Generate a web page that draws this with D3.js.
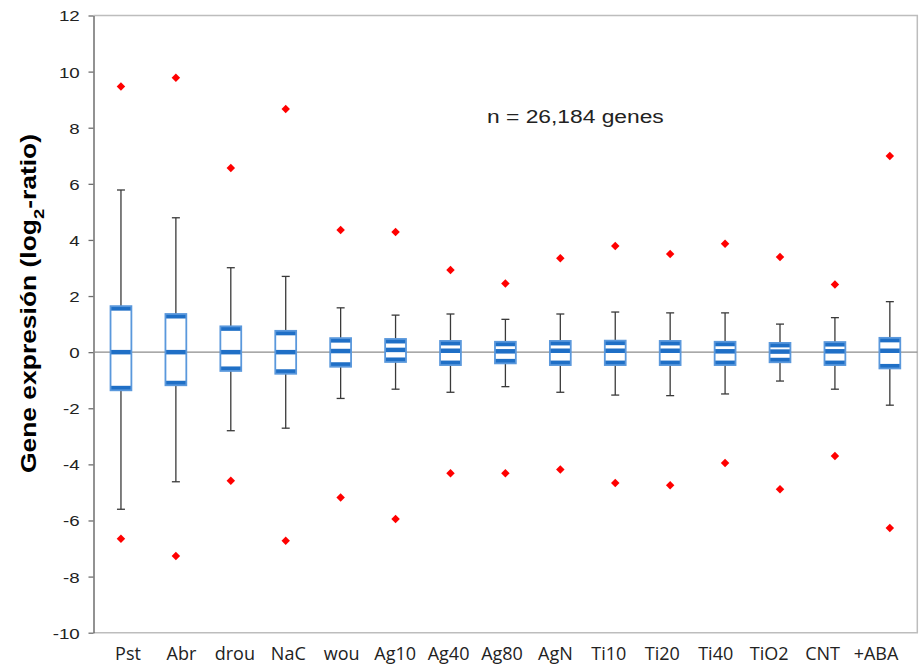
<!DOCTYPE html>
<html lang="es">
<head>
<meta charset="UTF-8">
<title>Gene expresión</title>
<script src="https://d3js.org/d3.v7.min.js"></script>
<style>
    body{ margin: 0; background: #fff; }
    svg{ display: block; }
</style>
</head>
<body>
<div id="grafico"></div>
<script>
    // categorias y valores (log2-ratio)
    const categorias = ['Pst', 'Abr', 'drou', 'NaC', 'wou', 'Ag10', 'Ag40', 'Ag80', 'AgN', 'Ti10', 'Ti20', 'Ti40', 'TiO2', 'CNT', '+ABA']
    const maximo  = [5.78, 4.79, 3.01, 2.70, 1.58, 1.32, 1.36, 1.17, 1.36, 1.43, 1.40, 1.40, 1.00, 1.23, 1.80]
    const q3      = [1.64, 1.36, 0.92, 0.76, 0.50, 0.47, 0.40, 0.37, 0.40, 0.41, 0.40, 0.37, 0.33, 0.36, 0.51]
    const mediana = [0, 0, 0, 0, 0.04, 0.08, 0.05, 0.03, 0.05, 0.05, 0.05, 0.03, 0.02, 0.03, 0.05]
    const q1      = [-1.36, -1.18, -0.67, -0.77, -0.52, -0.35, -0.46, -0.40, -0.46, -0.46, -0.46, -0.46, -0.36, -0.46, -0.58]
    const minimo  = [-5.6, -4.62, -2.8, -2.71, -1.65, -1.32, -1.43, -1.23, -1.43, -1.53, -1.55, -1.49, -1.03, -1.32, -1.89]
    const outAlto = [9.47, 9.78, 6.56, 8.67, 4.35, 4.28, 2.93, 2.45, 3.35, 3.78, 3.50, 3.86, 3.39, 2.41, 6.99]
    const outBajo = [-6.65, -7.27, -4.58, -6.72, -5.18, -5.95, -4.32, -4.32, -4.18, -4.66, -4.74, -3.95, -4.89, -3.70, -6.27]
    const ticksY = [-10, -8, -6, -4, -2, 0, 2, 4, 6, 8, 10, 12]

    const dados = categorias.map((c, i) => ({
        cat: c, hi: maximo[i], q3: q3[i], med: mediana[i], q1: q1[i], lo: minimo[i], oh: outAlto[i], ol: outBajo[i]
    }))

    const W = 919, H = 667
    const esq = 93.5, dir = 917.3, topo = 15.5, base = 632.7

    var svg = d3.select('#grafico')
        .append('svg')
        .attr('width', W)
        .attr('height', H)

    const x = d3.scaleBand().domain(categorias).range([esq, dir])
    const xRot = d3.scalePoint().domain(categorias).range([128, 876])
    const y = d3.scaleLinear().domain([-10, 12]).range([base, topo])

    // moldura cinza clara
    svg.append('path')
        .attr('d', `M${esq},${topo}H${dir}V${base}H${esq}`)
        .attr('fill', 'none')
        .attr('stroke', '#bdbdbd')
        .attr('stroke-width', 1.5)

    // eixo y
    const eixoY = svg.append('g')
        .attr('transform', `translate(${esq},0)`)
        .call(d3.axisLeft(y).tickValues(ticksY).tickSize(5).tickSizeOuter(0).tickFormat(d => String(d)))
    eixoY.select('.domain').attr('stroke', '#6e6e6e').attr('stroke-width', 1.5)
    eixoY.selectAll('.tick line').attr('stroke', '#6e6e6e').attr('stroke-width', 1.3)
    eixoY.selectAll('.tick text')
        .attr('x', -11)
        .attr('dy', '0.36em')
        .attr('transform', 'scale(1.25,1)')
        .style('font', '15px "Liberation Sans", Arial, sans-serif')
        .attr('fill', '#222')

    // linha do zero
    svg.append('line')
        .attr('x1', esq).attr('x2', dir)
        .attr('y1', y(0)).attr('y2', y(0))
        .attr('stroke', '#8c8c8c')
        .attr('stroke-width', 1.3)

    const bw = x.bandwidth() * 0.38
    const cx = d => x(d.cat) + x.bandwidth() / 2
    const faixa = 4.5

    const caixas = svg.selectAll('.caixa')
        .data(dados)
        .enter()
        .append('g')
        .attr('class', 'caixa')

    // bigodes
    caixas.append('line')
        .attr('x1', cx).attr('x2', cx)
        .attr('y1', d => y(d.q3)).attr('y2', d => y(d.hi))
        .attr('stroke', '#3a3a3a').attr('stroke-width', 1.3)
    caixas.append('line')
        .attr('x1', cx).attr('x2', cx)
        .attr('y1', d => y(d.q1)).attr('y2', d => y(d.lo))
        .attr('stroke', '#3a3a3a').attr('stroke-width', 1.3)
    caixas.append('line')
        .attr('x1', d => cx(d) - 4).attr('x2', d => cx(d) + 4)
        .attr('y1', d => y(d.hi)).attr('y2', d => y(d.hi))
        .attr('stroke', '#3a3a3a').attr('stroke-width', 1.3)
    caixas.append('line')
        .attr('x1', d => cx(d) - 4).attr('x2', d => cx(d) + 4)
        .attr('y1', d => y(d.lo)).attr('y2', d => y(d.lo))
        .attr('stroke', '#3a3a3a').attr('stroke-width', 1.3)

    // caixa branca
    caixas.append('rect')
        .attr('x', d => cx(d) - bw / 2)
        .attr('width', bw)
        .attr('y', d => y(d.q3))
        .attr('height', d => y(d.q1) - y(d.q3))
        .attr('fill', '#fff')

    // faixas azuis: q3, mediana, q1
    caixas.append('rect')
        .attr('x', d => cx(d) - bw / 2).attr('width', bw)
        .attr('y', d => y(d.q3)).attr('height', faixa)
        .attr('fill', '#1f6fc6')
    caixas.append('rect')
        .attr('x', d => cx(d) - bw / 2).attr('width', bw)
        .attr('y', d => y(d.med) - faixa / 2).attr('height', faixa)
        .attr('fill', '#1f6fc6')
    caixas.append('rect')
        .attr('x', d => cx(d) - bw / 2).attr('width', bw)
        .attr('y', d => y(d.q1) - faixa).attr('height', faixa)
        .attr('fill', '#1f6fc6')

    caixas.append('rect')
        .attr('x', d => cx(d) - bw / 2)
        .attr('width', bw)
        .attr('y', d => y(d.q3))
        .attr('height', d => y(d.q1) - y(d.q3))
        .attr('fill', 'none')
        .attr('stroke', '#5a98dc')
        .attr('stroke-width', 1.8)

    // outliers (losangos vermelhos)
    const losango = d3.symbol().type(d3.symbolSquare).size(36)
    caixas.append('path')
        .attr('d', losango)
        .attr('transform', d => `translate(${cx(d)},${y(d.oh)}) rotate(45)`)
        .attr('fill', '#ff0000')
    caixas.append('path')
        .attr('d', losango)
        .attr('transform', d => `translate(${cx(d)},${y(d.ol)}) rotate(45)`)
        .attr('fill', '#ff0000')

    // rotulos do eixo x
    svg.selectAll('.rotulo')
        .data(categorias)
        .enter()
        .append('text')
        .attr('class', 'rotulo')
        .attr('x', d => xRot(d))
        .attr('y', 660)
        .attr('text-anchor', 'middle')
        .style('font', '18px "Open Sans", sans-serif')
        .attr('fill', '#222')
        .text(d => d)

    // titulo do eixo y
    const tituloY = svg.append('text')
        .attr('transform', 'translate(35.5,303.5) rotate(-90) scale(1.23,1)')
        .attr('text-anchor', 'middle')
        .style('font', 'bold 21.5px "Liberation Sans", Arial, sans-serif')
        .attr('fill', '#000')
    tituloY.append('tspan').text('Gene expresión (log')
    tituloY.append('tspan').attr('baseline-shift', 'sub').style('font-size', '15px').text('2')
    tituloY.append('tspan').text('-ratio)')

    svg.append('text')
        .attr('transform', 'translate(487,123) scale(1.2,1)')
        .style('font', '19px "Liberation Sans", Arial, sans-serif')
        .attr('fill', '#222')
        .text('n = 26,184 genes')
</script>
</body>
</html>
